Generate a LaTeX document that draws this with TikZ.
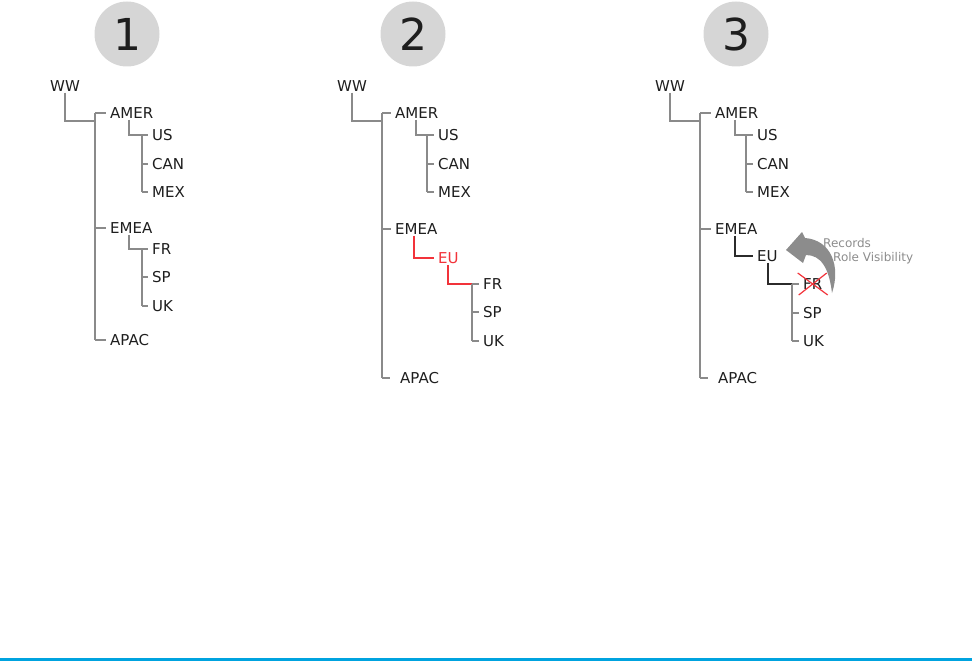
\documentclass[tikz,border=0pt]{standalone}
\usepackage{fontspec}
\setmainfont{DejaVu Sans}
\usetikzlibrary{calc}

\definecolor{linegray}{HTML}{8A8A8A}
\definecolor{darkline}{HTML}{2B2B2B}
\definecolor{txtdark}{HTML}{1E1E1E}
\definecolor{markred}{HTML}{F2333A}
\definecolor{badgegray}{HTML}{D6D6D6}
\definecolor{notegray}{HTML}{8C8C8C}
\definecolor{bluebar}{HTML}{00A3DF}

\tikzset{
  lbl/.style={anchor=west, inner xsep=4pt, inner ysep=1pt, text=txtdark, font=\fontsize{15}{18}\selectfont},
  rootlbl/.style={lbl, anchor=center},
  notelbl/.style={anchor=west, inner sep=0pt, text=notegray, font=\fontsize{12}{14}\selectfont},
  branch/.style={draw=linegray, line width=1.3pt},
  redbranch/.style={draw=markred, line width=1.3pt},
  darkbranch/.style={draw=darkline, line width=1.3pt},
  badge/.style={circle, fill=badgegray, minimum size=65pt, inner sep=0pt, text=txtdark, font=\fontsize{44}{50}\selectfont},
}

\begin{document}
\begin{tikzpicture}[x=1pt, y=-1pt]
\useasboundingbox (0,0) rectangle (972,661);
\fill[bluebar] (0,658) rectangle (972,661);

% 1: jerarquia original
\begin{scope}[shift={(0,0)}]
\node[badge] (n1) at (127,34) {1};
\node[rootlbl] (ww1) at (65,86) {WW};
\node[lbl] (amer1) at (106,113) {AMER};
\node[lbl] (us1) at (148,135) {US};
\node[lbl] (can1) at (148,164) {CAN};
\node[lbl] (mex1) at (148,192) {MEX};
\node[lbl] (emea1) at (106,228) {EMEA};
\node[lbl] (fr1) at (148,249) {FR};
\node[lbl] (sp1) at (148,277) {SP};
\node[lbl] (uk1) at (148,306) {UK};
\node[lbl] (apac1) at (106,340) {APAC};
\coordinate (bus1) at (95,121);
\coordinate (amb1) at (142,135);
\coordinate (emb1) at (142,249);
\draw[branch] (ww1.south) |- (bus1);
\draw[branch] (amer1.west -| bus1) -- (apac1.west -| bus1);
\foreach \nd in {amer1,emea1,apac1} \draw[branch] (\nd.west -| bus1) -- (\nd.west);
\draw[branch] ([xshift=23pt]amer1.south west) |- (amb1);
\draw[branch] (us1.west -| amb1) -- (mex1.west -| amb1);
\foreach \nd in {us1,can1,mex1} \draw[branch] (\nd.west -| amb1) -- (\nd.west);
\draw[branch] ([xshift=23pt]emea1.south west) |- (emb1);
\draw[branch] (fr1.west -| emb1) -- (uk1.west -| emb1);
\foreach \nd in {fr1,sp1,uk1} \draw[branch] (\nd.west -| emb1) -- (\nd.west);
\end{scope}

% 2: nuevo nivel EU
\begin{scope}[shift={(287,0)}]
\node[badge] (n2) at (126,34) {2};
\node[rootlbl] (ww2) at (65,86) {WW};
\node[lbl] (amer2) at (104,113) {AMER};
\node[lbl] (us2) at (147,135) {US};
\node[lbl] (can2) at (147,164) {CAN};
\node[lbl] (mex2) at (147,192) {MEX};
\node[lbl] (emea2) at (104,229) {EMEA};
\node[lbl, text=markred] (eu2) at (147,258) {EU};
\node[lbl] (fr2) at (192,284) {FR};
\node[lbl] (sp2) at (192,312) {SP};
\node[lbl] (uk2) at (192,341) {UK};
\node[lbl] (apac2) at (109,378) {APAC};
\coordinate (bus2) at (95,121);
\coordinate (amb2) at (140,135);
\coordinate (eub2) at (185,284);
\draw[branch] (ww2.south) |- (bus2);
\draw[branch] (amer2.west -| bus2) -- (apac2.west -| bus2);
\foreach \nd in {amer2,emea2} \draw[branch] (\nd.west -| bus2) -- (\nd.west);
\draw[branch] (apac2.west -| bus2) -- ++(8,0);
\draw[branch] ([xshift=25pt]amer2.south west) |- (amb2);
\draw[branch] (us2.west -| amb2) -- (mex2.west -| amb2);
\foreach \nd in {us2,can2,mex2} \draw[branch] (\nd.west -| amb2) -- (\nd.west);
\draw[redbranch] ([xshift=23pt]emea2.south west) |- (eu2.west);
\draw[redbranch] ([xshift=14pt]eu2.south west) |- (eub2);
\draw[branch] (fr2.west -| eub2) -- (uk2.west -| eub2);
\foreach \nd in {fr2,sp2,uk2} \draw[branch] (\nd.west -| eub2) -- (\nd.west);
\end{scope}

% 3: visibilidad de registros
\begin{scope}[shift={(605,0)}]
\node[badge] (n3) at (131,34) {3};
\node[rootlbl] (ww3) at (65,86) {WW};
\node[lbl] (amer3) at (106,113) {AMER};
\node[lbl] (us3) at (148,135) {US};
\node[lbl] (can3) at (148,164) {CAN};
\node[lbl] (mex3) at (148,192) {MEX};
\node[lbl] (emea3) at (106,229) {EMEA};
\node[lbl] (eu3) at (148,256) {EU};
\node[lbl] (fr3) at (194,284) {FR};
\node[lbl] (sp3) at (194,313) {SP};
\node[lbl] (uk3) at (194,341) {UK};
\node[lbl] (apac3) at (109,378) {APAC};
\coordinate (bus3) at (95,121);
\coordinate (amb3) at (141,135);
\coordinate (eub3) at (187,284);
\draw[branch] (ww3.south) |- (bus3);
\draw[branch] (amer3.west -| bus3) -- (apac3.west -| bus3);
\foreach \nd in {amer3,emea3} \draw[branch] (\nd.west -| bus3) -- (\nd.west);
\draw[branch] (apac3.west -| bus3) -- ++(8,0);
\draw[branch] ([xshift=24pt]amer3.south west) |- (amb3);
\draw[branch] (us3.west -| amb3) -- (mex3.west -| amb3);
\foreach \nd in {us3,can3,mex3} \draw[branch] (\nd.west -| amb3) -- (\nd.west);
\draw[darkbranch] ([xshift=24pt]emea3.south west) |- (eu3.west);
\draw[darkbranch] ([xshift=15pt]eu3.south west) |- (eub3);
\draw[branch] (fr3.west -| eub3) -- (uk3.west -| eub3);
\foreach \nd in {fr3,sp3,uk3} \draw[branch] (\nd.west -| eub3) -- (\nd.west);
% FR tachado
\draw[markred, line width=1.2pt] ($(fr3.center)+(-15,-11)$) -- ($(fr3.center)+(15,11)$);
\draw[markred, line width=1.2pt] ($(fr3.center)+(-14,11)$) -- ($(fr3.center)+(14,-11)$);
% flecha curva
\fill[notegray] (227,293) .. controls (236,266) and (226,240) .. (200,238)
  -- (197,232) -- (181,250) -- (198,263) -- (201,255)
  .. controls (216,255) and (224,268) .. (227,293) -- cycle;
\node[notelbl] (rec3) at (218,243) {Records};
\node[notelbl] (vis3) at (228,258) {Role Visibility};
\end{scope}
\end{tikzpicture}
\end{document}
